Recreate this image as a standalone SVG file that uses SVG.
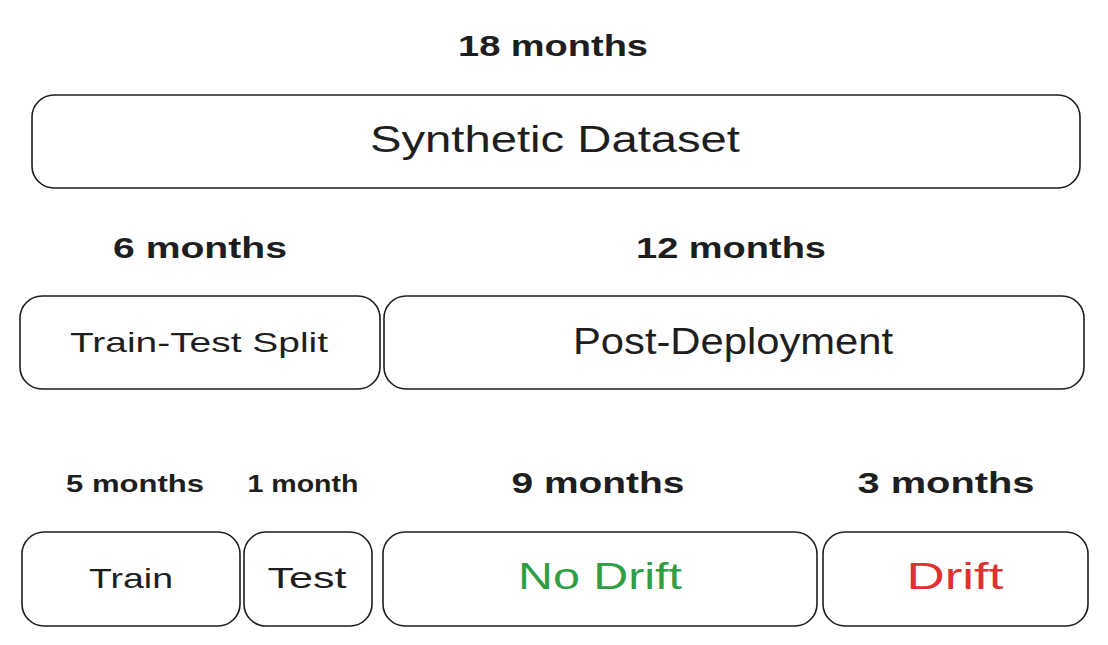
<svg xmlns="http://www.w3.org/2000/svg" width="1108" height="645" viewBox="0 0 1108 645">
<style>
.box{fill:#fff;stroke:#1e1e1e;stroke-width:1.6}
.t{font-family:"Liberation Sans",Arial,sans-serif;fill:#1e1e1e;text-anchor:middle}
.h{font-weight:bold}
</style>
<rect width="1108" height="645" fill="#fff"/>
<g id="labels">
<text class="t h" x="553" y="56" font-size="30" textLength="190" lengthAdjust="spacingAndGlyphs">18 months</text>
<text class="t h" x="200" y="258" font-size="30" textLength="174" lengthAdjust="spacingAndGlyphs">6 months</text>
<text class="t h" x="731" y="258" font-size="30" textLength="190" lengthAdjust="spacingAndGlyphs">12 months</text>
<text class="t h" x="135" y="492" font-size="24" textLength="138" lengthAdjust="spacingAndGlyphs">5 months</text>
<text class="t h" x="303" y="492" font-size="24" textLength="111" lengthAdjust="spacingAndGlyphs">1 month</text>
<text class="t h" x="598" y="493" font-size="30" textLength="173" lengthAdjust="spacingAndGlyphs">9 months</text>
<text class="t h" x="946" y="493" font-size="30" textLength="177" lengthAdjust="spacingAndGlyphs">3 months</text>
</g>
<g id="synthetic-dataset">
<rect class="box" x="32" y="95" width="1048" height="93" rx="22"/>
<text class="t" x="555" y="152" font-size="36" textLength="370" lengthAdjust="spacingAndGlyphs">Synthetic Dataset</text>
</g>
<g id="train-test-split">
<rect class="box" x="20" y="296" width="360" height="93" rx="22"/>
<text class="t" x="199" y="352" font-size="28" textLength="258" lengthAdjust="spacingAndGlyphs">Train-Test Split</text>
</g>
<g id="post-deployment">
<rect class="box" x="384" y="296" width="700" height="93" rx="22"/>
<text class="t" x="733" y="354" font-size="36" textLength="320" lengthAdjust="spacingAndGlyphs">Post-Deployment</text>
</g>
<g id="train">
<rect class="box" x="22" y="532" width="218" height="94" rx="22"/>
<text class="t" x="131" y="588" font-size="28" textLength="84" lengthAdjust="spacingAndGlyphs">Train</text>
</g>
<g id="test">
<rect class="box" x="244" y="532" width="128" height="94" rx="22"/>
<text class="t" x="307" y="588" font-size="30" textLength="79" lengthAdjust="spacingAndGlyphs">Test</text>
</g>
<g id="no-drift">
<rect class="box" x="383" y="532" width="434" height="94" rx="22"/>
<text class="t" x="600" y="589" font-size="36" textLength="164" lengthAdjust="spacingAndGlyphs" style="fill:#2f9e44">No Drift</text>
</g>
<g id="drift">
<rect class="box" x="823" y="532" width="265" height="94" rx="22"/>
<text class="t" x="955" y="589" font-size="36" textLength="97" lengthAdjust="spacingAndGlyphs" style="fill:#e03131">Drift</text>
</g>
<g id="connectors"></g>
</svg>
